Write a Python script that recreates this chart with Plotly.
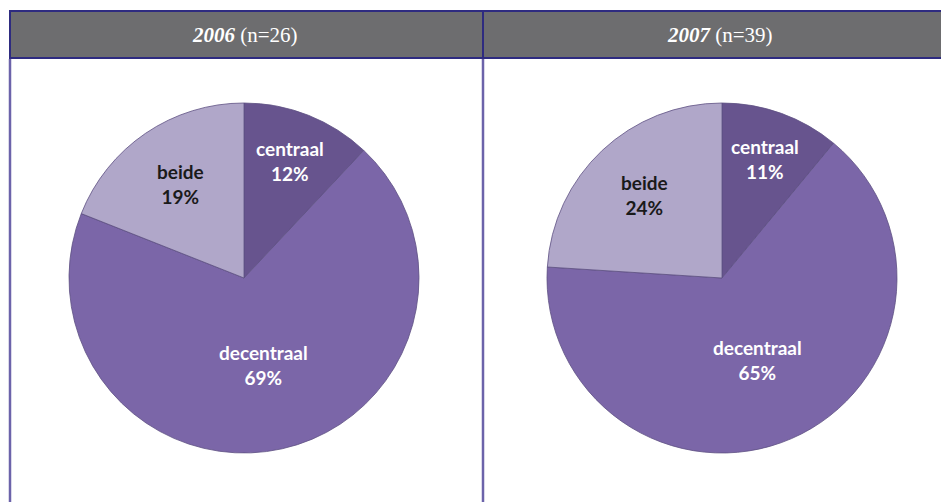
import math
import plotly.graph_objects as go

W, H = 941, 502

years = ["2006", "2007"]
ns = [26, 39]
categories = ["centraal", "decentraal", "beide"]
values_2006 = [12, 69, 19]
values_2007 = [11, 65, 24]
series = [values_2006, values_2007]

colors = ["#67548e", "#7b66a8", "#b0a7c9"]
text_colors = ["white", "white", "#1a1a1a"]
label_frac = [0.72, 0.51, 0.65]

centers_x = [244, 722]
center_y = 278
radius = 175

fig = go.Figure()
annotations = []

for i, vals in enumerate(series):
    cx = centers_x[i]
    fig.add_trace(go.Pie(
        labels=categories, values=vals, sort=False, direction="clockwise",
        rotation=0, textinfo="none", hoverinfo="label+percent",
        marker=dict(colors=colors, line=dict(color="#5e5183", width=0.8)),
        domain=dict(x=[(cx - radius) / W, (cx + radius) / W],
                    y=[(H - center_y - radius) / H, (H - center_y + radius) / H]),
        showlegend=False,
    ))
    total = sum(vals)
    cum = 0
    for j, v in enumerate(vals):
        mid = (cum + v / 2) / total * 2 * math.pi
        cum += v
        r = radius * label_frac[j]
        lx = cx + r * math.sin(mid)
        ly = center_y - r * math.cos(mid)
        pct = round(v / total * 100)
        annotations.append(dict(
            x=lx / W, y=1 - ly / H, xref="paper", yref="paper",
            text=f"<b>{categories[j]}<br>{pct}%</b>", showarrow=False,
            font=dict(family="Lato", size=19, color=text_colors[j]),
            align="center", xanchor="center", yanchor="middle",
        ))

# header titles
title_x = [245, 720]
for i, y in enumerate(years):
    annotations.append(dict(
        x=title_x[i] / W, y=1 - 35 / H, xref="paper", yref="paper",
        text=f"<b><i>{y}</i></b> (n={ns[i]})", showarrow=False,
        font=dict(family="Liberation Serif", size=21, color="white"),
        xanchor="center", yanchor="middle",
    ))

shapes = [
    dict(type="rect", xref="paper", yref="paper", x0=10 / W, x1=950 / W,
         y0=1 - 58 / H, y1=1 - 11 / H, fillcolor="#6d6d6f",
         line=dict(color="#2e2b80", width=2), layer="below"),
    dict(type="line", xref="paper", yref="paper", x0=483 / W, x1=483 / W,
         y0=1 - 58 / H, y1=1 - 11 / H, line=dict(color="#2e2b80", width=2)),
    dict(type="line", xref="paper", yref="paper", x0=10 / W, x1=10 / W,
         y0=0, y1=1 - 59 / H, line=dict(color="#6c63aa", width=2.5)),
    dict(type="line", xref="paper", yref="paper", x0=483 / W, x1=483 / W,
         y0=0, y1=1 - 59 / H, line=dict(color="#6c63aa", width=2.5)),
]

fig.update_layout(
    width=W, height=H, margin=dict(l=0, r=0, t=0, b=0),
    paper_bgcolor="white", plot_bgcolor="white",
    annotations=annotations, shapes=shapes,
)

fig.write_html("out.html", config={"displayModeBar": False},
               post_script="document.body.style.margin='0';document.body.style.overflow='hidden';")
